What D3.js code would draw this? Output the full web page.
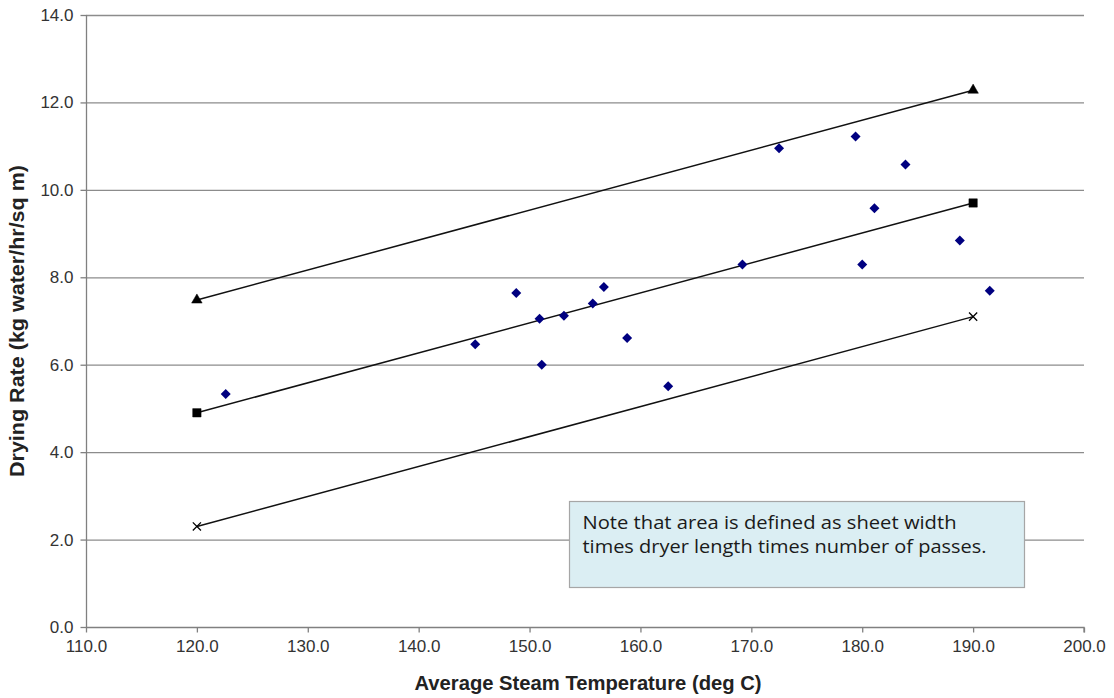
<!DOCTYPE html>
<html>
<head>
<meta charset="utf-8">
<script src="https://cdn.jsdelivr.net/npm/d3@7"></script>
<style>
  html, body { margin: 0; padding: 0; background: #fff; }
  svg { display: block; }
</style>
</head>
<body>
<svg id="chart" width="1114" height="698"></svg>
<script>
// Measured drying rates vs. average steam temperature
const tempC = [122.6, 145.1, 148.8, 150.9, 151.1, 153.1, 155.7, 156.7, 158.8, 162.5,
               169.2, 172.5, 179.4, 183.9, 181.1, 180.0, 188.8, 191.5];
const dryingRate = [5.33, 6.47, 7.64, 7.05, 6.00, 7.12, 7.40, 7.78, 6.61, 5.51,
                    8.29, 10.95, 11.22, 10.58, 9.58, 8.29, 8.84, 7.69];

// Reference lines (upper, middle, lower) between 120 and 190 deg C
const lineTemps = [120, 190];
const upperLine = [7.48, 12.28];
const middleLine = [4.9, 9.7];
const lowerLine = [2.3, 7.1];

const xTicks = [110, 120, 130, 140, 150, 160, 170, 180, 190, 200];
const yTicks = [0, 2, 4, 6, 8, 10, 12, 14];

const noteLines = ["Note that area is defined as sheet width",
                   "times dryer length times number of passes."];
const noteWidths = [374, 404];

const svg = d3.select("#chart");
const plot = { left: 86, right: 1084, top: 15, bottom: 627 };
const arial = "Arial, 'Liberation Sans', sans-serif";

const x = d3.scaleLinear().domain([110, 200]).range([plot.left, plot.right]);
const y = d3.scaleLinear().domain([0, 14]).range([plot.bottom, plot.top]);

// Horizontal gridlines
svg.append("g").selectAll("line").data(yTicks.filter(d => d > 0)).join("line")
  .attr("x1", plot.left).attr("x2", plot.right)
  .attr("y1", d => y(d) + 0.5).attr("y2", d => y(d) + 0.5)
  .attr("stroke", "#8c8c8c").attr("stroke-width", 1.3);

// Axes
const yAxis = svg.append("g").attr("transform", `translate(${plot.left + 0.5},0)`)
  .call(d3.axisLeft(y).tickValues(yTicks).tickFormat(d3.format(".1f")).tickSize(6).tickPadding(7));
const xAxis = svg.append("g").attr("transform", `translate(0,${plot.bottom + 0.5})`)
  .call(d3.axisBottom(x).tickValues(xTicks).tickFormat(d3.format(".1f")).tickSize(5).tickPadding(7));

[yAxis, xAxis].forEach(g => {
  g.attr("font-size", null).attr("font-family", null);
  g.select(".domain").attr("stroke", "#808080").attr("stroke-width", 1.3);
  g.selectAll(".tick line").attr("stroke", "#808080").attr("stroke-width", 1.3);
  g.selectAll(".tick text").attr("fill", "#333").attr("font-family", arial).attr("font-size", 17);
});
yAxis.select(".domain").attr("d", `M0,${plot.top}V${plot.bottom}`);
xAxis.select(".domain").attr("d", `M${plot.left},0H${plot.right}V5`);

// Reference lines with end markers
const lineGen = d3.line().x(d => x(d[0])).y(d => y(d[1]));
const refSeries = [
  { vals: upperLine, symbol: d3.symbolTriangle, size: 48 },
  { vals: middleLine, symbol: d3.symbolSquare, size: 70 },
  { vals: lowerLine, symbol: d3.symbolX, size: 45 }
];
refSeries.forEach(s => {
  const pts = lineTemps.map((t, i) => [t, s.vals[i]]);
  svg.append("path").attr("d", lineGen(pts))
    .attr("fill", "none").attr("stroke", "#111").attr("stroke-width", 1.5);
  svg.append("g").selectAll("path").data(pts).join("path")
    .attr("transform", d => `translate(${x(d[0])},${y(d[1])})`)
    .attr("d", d3.symbol().type(s.symbol).size(s.size))
    .attr("fill", s.symbol === d3.symbolX ? "none" : "#000")
    .attr("stroke", "#000")
    .attr("stroke-width", s.symbol === d3.symbolX ? 1.3 : 0.5);
});

// Measured points (navy diamonds)
svg.append("g").selectAll("path").data(tempC.map((t, i) => [t, dryingRate[i]])).join("path")
  .attr("transform", d => `translate(${x(d[0])},${y(d[1])}) rotate(45)`)
  .attr("d", d3.symbol().type(d3.symbolSquare).size(50))
  .attr("fill", "#000080");

// Note box
const note = svg.append("g").attr("transform", "translate(569.5,501.5)");
note.append("rect").attr("width", 455).attr("height", 86)
  .attr("fill", "#dbeef3").attr("stroke", "#a6a6a6").attr("stroke-width", 1.2);
note.selectAll("text").data(noteLines).join("text")
  .attr("x", 13).attr("y", (d, i) => 27 + i * 24)
  .attr("textLength", (d, i) => noteWidths[i]).attr("lengthAdjust", "spacingAndGlyphs")
  .attr("fill", "#1a1a1a")
  .style("font-family", "'Open Sans', Lato, sans-serif").style("font-size", "18px")
  .text(d => d);

// Axis titles
svg.append("text").attr("x", 588).attr("y", 690).attr("text-anchor", "middle")
  .attr("textLength", 347).attr("lengthAdjust", "spacingAndGlyphs")
  .style("font-family", arial).style("font-size", "20px")
  .style("font-weight", "bold").attr("fill", "#222")
  .text("Average Steam Temperature (deg C)");
svg.append("text").attr("transform", "translate(24,321) rotate(-90)").attr("text-anchor", "middle")
  .attr("textLength", 312).attr("lengthAdjust", "spacingAndGlyphs")
  .style("font-family", arial).style("font-size", "20px")
  .style("font-weight", "bold").attr("fill", "#222")
  .text("Drying Rate (kg water/hr/sq m)");
</script>
</body>
</html>
